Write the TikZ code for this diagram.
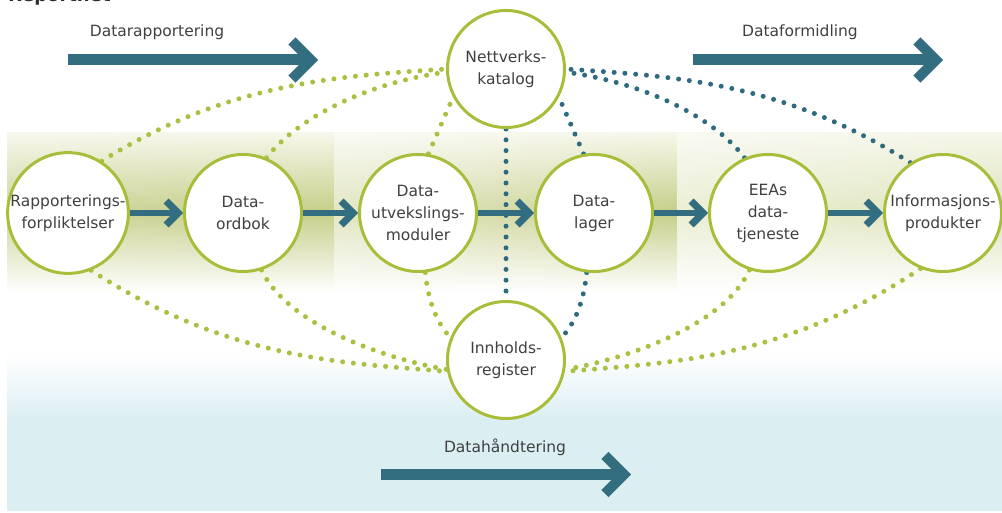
\documentclass[tikz,border=0pt]{standalone}
\usepackage{fontspec}
\setmainfont{DejaVu Sans}
\usetikzlibrary{arrows.meta,fadings}
\definecolor{rnTeal}{RGB}{51,110,128}
\definecolor{rnDotT}{RGB}{47,107,127}
\definecolor{rnGreen}{RGB}{168,190,58}
\definecolor{rnDotG}{RGB}{168,193,64}
\definecolor{rnText}{RGB}{64,64,64}
\definecolor{rnBand}{RGB}{198,206,136}
\definecolor{rnBandL}{RGB}{222,228,186}
\definecolor{rnBandTop}{RGB}{246,247,234}
\definecolor{rnBlue}{RGB}{219,238,242}
\pgfdeclarelayer{bg}
\pgfdeclarelayer{lines}
\pgfsetlayers{bg,lines,main}
\begin{document}
\begin{tikzpicture}[x=1pt,y=-1pt,
  circ/.style={circle, draw=rnGreen, line width=3pt, fill=white, minimum size=117pt,
    inner sep=0pt, align=center, text=rnText, font=\fontsize{15.5}{22}\selectfont},
  dotg/.style={draw=rnDotG, line width=5pt, line cap=round, dash pattern=on 0pt off 10.8pt},
  dott/.style={dotg, draw=rnDotT},
  flow/.style={draw=rnTeal, line width=6.5pt, -{Straight Barb[length=12pt,width=24pt,line width=7pt]}},
  bigflow/.style={draw=rnTeal, line width=11pt, -{Straight Barb[length=19pt,width=38pt,line width=10pt]}},
  lbl/.style={text=rnText, font=\fontsize{15.5}{18}\selectfont}
]
\useasboundingbox (0,0) rectangle (1002,513);
\begin{pgfonlayer}{bg}
\fill[white] (0,0) rectangle (1002,513);
\shade[top color=rnBandTop, bottom color=white, middle color=rnBand] (7,133) rectangle (334,292);
\shade[top color=rnBandTop, bottom color=white, middle color=rnBand] (334,133) rectangle (677,292);
\shade[top color=rnBandTop, bottom color=white, middle color=rnBandL] (677,133) rectangle (1002,292);
\fill[white, opacity=0.15, path fading=east] (7,133) rectangle (334,292);
\fill[white, opacity=0.5, path fading=east] (334,133) rectangle (677,292);
\fill[white, opacity=0.4, path fading=east] (677,133) rectangle (1002,292);
\shade[top color=white, bottom color=rnBlue] (7,355) rectangle (1002,420);
\fill[rnBlue] (7,420) rectangle (1002,511);
\end{pgfonlayer}

\node[anchor=base west, inner sep=0pt, text=rnText!70!black, font=\bfseries\fontsize{18}{20}\selectfont] (title) at (8,2) {Reportnet};

\node[circ] (rap) at (68,213) {Rapporterings-\\forpliktelser};
\node[circ] (ord) at (243,213) {Data-\\ordbok};
\node[circ] (utv) at (418,213) {Data-\\utvekslings-\\moduler};
\node[circ] (lag) at (594,213) {Data-\\lager};
\node[circ] (eea) at (768,213) {EEAs\\data-\\tjeneste};
\node[circ] (inf) at (943,213) {Informasjons-\\produkter};
\node[circ] (net) at (506,69) {Nettverks-\\katalog};
\node[circ] (inn) at (506,360) {Innholds-\\register};

\node[lbl] (l1) at (157,32) {Datarapportering};
\node[lbl] (l2) at (800,32) {Dataformidling};
\node[lbl] (l3) at (505,447) {Datahåndtering};

\coordinate (a1s) at (68,60);  \coordinate (a1e) at (318,60);
\coordinate (a2s) at (693,60); \coordinate (a2e) at (943,60);
\coordinate (a3s) at (381,474.5); \coordinate (a3e) at (631,474.5);

\begin{pgfonlayer}{lines}
\draw[dotg] (rap.57) .. controls (231,80) and (346,76) .. (net.180);
\draw[dotg] (ord.67) .. controls (300,115) and (372,82) .. (net.183);
\draw[dotg] (utv.80) -- (net.208);
\draw[dott] (net.south) -- (inn.north);
\draw[dott] (lag.100) -- (net.332);
\draw[dott] (eea.113) .. controls (712,115) and (640,82) .. (net.-3);
\draw[dott] (inf.123) .. controls (781,80) and (666,76) .. (net.0);
\draw[dotg] (rap.-68) .. controls (230,361) and (347,363) .. (inn.191);
\draw[dotg] (ord.-72) .. controls (290,330) and (400,362) .. (inn.189);
\draw[dotg] (utv.-83) .. controls (428,300) and (436,322) .. (inn.158);
\draw[dott] (lag.-97) .. controls (584,300) and (576,322) .. (inn.22);
\draw[dotg] (eea.-108) .. controls (722,330) and (612,362) .. (inn.-9);
\draw[dotg] (inf.-112) .. controls (782,361) and (665,363) .. (inn.-11);
\draw[bigflow] (a1s) -- (a1e);
\draw[bigflow] (a2s) -- (a2e);
\draw[bigflow] (a3s) -- (a3e);
\end{pgfonlayer}

\draw[flow] (rap) -- (ord);
\draw[flow] (ord) -- (utv);
\draw[flow] (utv) -- (lag);
\draw[flow] (lag) -- (eea);
\draw[flow] (eea) -- (inf);
\end{tikzpicture}
\end{document}
